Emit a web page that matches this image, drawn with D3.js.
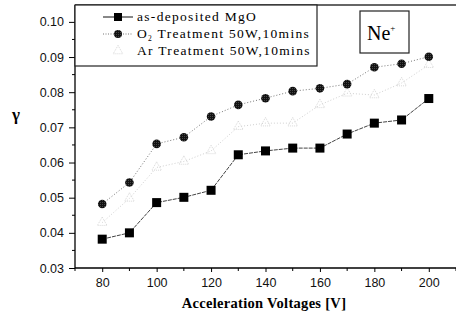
<!DOCTYPE html>
<html><head><meta charset="utf-8">
<script src="https://cdn.jsdelivr.net/npm/d3@7"></script>
<style>body{margin:0;background:#fff}svg{display:block}</style>
</head><body>
<svg id="c" width="456" height="322"></svg>
<script>
const voltages = [80, 90, 100, 110, 120, 130, 140, 150, 160, 170, 180, 190, 200];
const asDeposited = [0.0382, 0.0400, 0.0486, 0.0501, 0.0521, 0.0622, 0.0633, 0.0641, 0.0641, 0.0681, 0.0712, 0.0721, 0.0782];
const o2Treatment = [0.0482, 0.0543, 0.0653, 0.0672, 0.0731, 0.0764, 0.0783, 0.0803, 0.0811, 0.0823, 0.0871, 0.0881, 0.0901];
const arTreatment = [0.0429, 0.0498, 0.0586, 0.0603, 0.0633, 0.0702, 0.0712, 0.0712, 0.0764, 0.0797, 0.0792, 0.0826, 0.0878];
const seriesNames = ["as-deposited MgO", "O2 Treatment 50W,10mins", "Ar Treatment 50W,10mins"];
const yTicks = [0.03, 0.04, 0.05, 0.06, 0.07, 0.08, 0.09, 0.10];
const xTicks = [80, 100, 120, 140, 160, 180, 200];

const svg = d3.select("#c");
const L = 75, R = 456, T = 5, B = 268;
const x = d3.scaleLinear().domain([70, 210]).range([L, R]);
const y = d3.scaleLinear().domain([0.03, 0.1048]).range([B, T]);

const defs = svg.append("defs");
const pat = defs.append("pattern").attr("id", "hatch").attr("patternUnits", "userSpaceOnUse").attr("width", 2).attr("height", 2);
pat.append("rect").attr("width", 2).attr("height", 2).attr("fill", "#111");
pat.append("rect").attr("width", 1).attr("height", 1).attr("fill", "#444");

const sans = "Liberation Sans, Arial, sans-serif";
const fnt = "Liberation Serif, Times New Roman, serif";

const yAxis = d3.axisLeft(y).tickValues(yTicks).tickFormat(d3.format(".2f")).tickSize(6).tickPadding(5);
const gy = svg.append("g").attr("transform", `translate(${L},0)`).call(yAxis);
const yMinor = d3.range(0.035, 0.104, 0.01);
gy.selectAll(".minor").data(yMinor).enter().append("line").attr("class", "minor")
  .attr("x1", 0).attr("x2", -3).attr("y1", d => y(d)).attr("y2", d => y(d)).attr("stroke", "#000");

const xAxis = d3.axisBottom(x).tickValues(xTicks).tickSize(4).tickPadding(6);
const gx = svg.append("g").attr("transform", `translate(0,${B})`).call(xAxis);
const xMinor = [70, 90, 110, 130, 150, 170, 190, 210];
gx.selectAll(".minor").data(xMinor).enter().append("line").attr("class", "minor")
  .attr("x1", d => x(d)).attr("x2", d => x(d)).attr("y1", 0).attr("y2", 3).attr("stroke", "#000");

[gx, gy].forEach(g => {
  g.select(".domain").attr("stroke", "#000").attr("stroke-width", 1.3);
  g.selectAll(".tick line").attr("stroke", "#000");
  g.selectAll("text").attr("font-family", sans).attr("font-size", 12.5).attr("fill", "#111");
});
gy.select(".domain").attr("d", `M0,${B}V${T}`);
gx.select(".domain").attr("d", `M${L},0H${R}`);

svg.append("line").attr("x1", L).attr("x2", R).attr("y1", T).attr("y2", T).attr("stroke", "#333").attr("stroke-width", 1.5);

const line = d3.line().x((d, i) => x(voltages[i])).y(d => y(d));
svg.append("path").datum(arTreatment).attr("d", line).attr("fill", "none").attr("stroke", "#d0d0d0").attr("stroke-width", 1).attr("stroke-dasharray", "1,2");
svg.append("path").datum(o2Treatment).attr("d", line).attr("fill", "none").attr("stroke", "#777").attr("stroke-width", 1).attr("stroke-dasharray", "1,2");
svg.append("path").datum(asDeposited).attr("d", line).attr("fill", "none").attr("stroke", "#444").attr("stroke-width", 1).attr("stroke-dasharray", "4,1");

const tri = d3.symbol().type(d3.symbolTriangle).size(40);
svg.append("g").selectAll("path").data(arTreatment).enter().append("path")
  .attr("d", tri).attr("transform", (d, i) => `translate(${x(voltages[i])},${y(d)})`)
  .attr("fill", "none").attr("stroke", "#d8d8d8").attr("stroke-width", 1).attr("stroke-dasharray", "1,1");
svg.append("g").selectAll("circle").data(o2Treatment).enter().append("circle")
  .attr("cx", (d, i) => x(voltages[i])).attr("cy", d => y(d)).attr("r", 4.3).attr("fill", "url(#hatch)");
svg.append("g").selectAll("rect").data(asDeposited).enter().append("rect")
  .attr("x", (d, i) => x(voltages[i]) - 4.5).attr("y", d => y(d) - 4.5).attr("width", 9).attr("height", 9).attr("fill", "#000");

const lg = svg.append("g");
lg.append("rect").attr("x", L).attr("y", T).attr("width", 317 - L).attr("height", 66 - T).attr("fill", "#fff").attr("stroke", "#222").attr("stroke-width", 1.2);
const ly = [17, 34, 51];
lg.append("line").attr("x1", 103).attr("x2", 133).attr("y1", ly[0]).attr("y2", ly[0]).attr("stroke", "#111");
lg.append("rect").attr("x", 114).attr("y", ly[0] - 4).attr("width", 8).attr("height", 8).attr("fill", "#000");
lg.append("line").attr("x1", 103).attr("x2", 133).attr("y1", ly[1]).attr("y2", ly[1]).attr("stroke", "#777").attr("stroke-dasharray", "1,1.5");
lg.append("circle").attr("cx", 118).attr("cy", ly[1]).attr("r", 4).attr("fill", "url(#hatch)");
lg.append("path").attr("d", tri).attr("transform", `translate(118,${ly[2]})`).attr("fill", "none").attr("stroke", "#d8d8d8").attr("stroke-dasharray", "1,1");
const lfs = 13.5, lls = 1.3;
lg.append("text").attr("x", 137).attr("y", ly[0] + 4).attr("font-family", fnt).attr("font-size", lfs).attr("letter-spacing", lls).text(seriesNames[0]);
const t2 = lg.append("text").attr("x", 137).attr("y", ly[1] + 4).attr("font-family", fnt).attr("font-size", lfs).attr("letter-spacing", lls);
t2.append("tspan").text("O");
t2.append("tspan").attr("font-size", 7.5).attr("dy", 3).text("2");
t2.append("tspan").attr("dy", -3).text(" Treatment 50W,10mins");
lg.append("text").attr("x", 137).attr("y", ly[2] + 4).attr("font-family", fnt).attr("font-size", lfs).attr("letter-spacing", lls).text(seriesNames[2]);

svg.append("rect").attr("x", 360).attr("y", 11).attr("width", 49).attr("height", 42).attr("fill", "#fff").attr("stroke", "#222").attr("stroke-width", 1.2);
const ne = svg.append("text").attr("x", 367).attr("y", 40).attr("font-family", fnt).attr("font-size", 20);
ne.append("tspan").text("Ne");
ne.append("tspan").attr("font-size", 9).attr("dy", -9).text("+");

svg.append("text").attr("x", 264).attr("y", 308).attr("text-anchor", "middle").attr("font-family", fnt).attr("font-weight", "bold").attr("font-size", 14.5).attr("letter-spacing", 0.3).text("Acceleration Voltages [V]");
svg.append("text").attr("x", 16).attr("y", 120).attr("text-anchor", "middle").attr("font-family", fnt).attr("font-weight", "bold").attr("font-size", 17).text("γ");
</script>
</body></html>
